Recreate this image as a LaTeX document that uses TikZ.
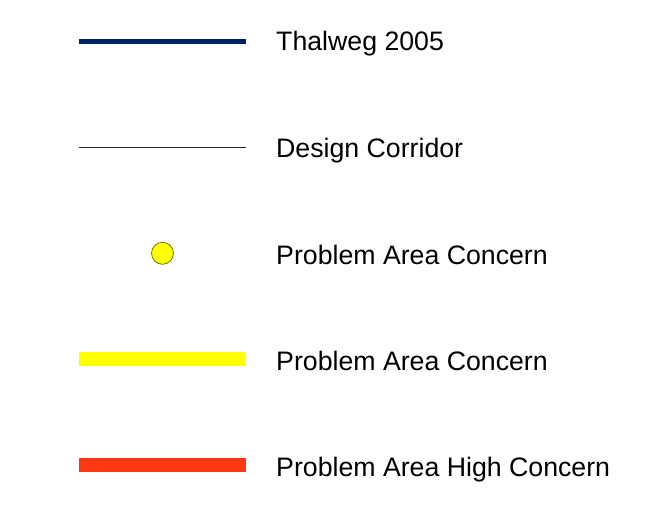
\documentclass[tikz,border=0pt]{standalone}
\usepackage{fontspec}
\setmainfont{Liberation Sans}
\definecolor{navy}{RGB}{0,32,106}
\definecolor{hot}{RGB}{255,56,20}
\definecolor{yel}{RGB}{255,255,0}
\tikzset{x=1pt,y=-1pt,
 lab/.style={anchor=base west,inner sep=0pt,font=\fontsize{26.7}{30}\selectfont},
 band/.style={line cap=butt}}
\begin{document}
\begin{tikzpicture}
\useasboundingbox (0,0) rectangle (655,508);
\node[lab] (t1) at (276,51) {Thalweg 2005};
\node[lab] (t2) at (276,157) {Design Corridor};
\node[lab] (t3) at (276,264) {Problem Area Concern};
\node[lab] (t4) at (276,370) {Problem Area Concern};
\node[lab] (t5) at (276,476) {Problem Area High Concern};
\draw[band,navy,line width=5.3pt] (79,41.3) -- (246,41.3);
\draw[band,black!85,line width=1.1pt] (79,147.2) -- (246,147.2);
\node[circle,draw=black!60!yel,fill=yel,line width=.7pt,minimum size=22pt,inner sep=0pt] (c) at (162.5,253.3) {};
\draw[band,yel,line width=13.7pt] (79,358.8) -- (246,358.8);
\draw[band,hot,line width=13.4pt] (79,465) -- (246,465);
\end{tikzpicture}
\end{document}
